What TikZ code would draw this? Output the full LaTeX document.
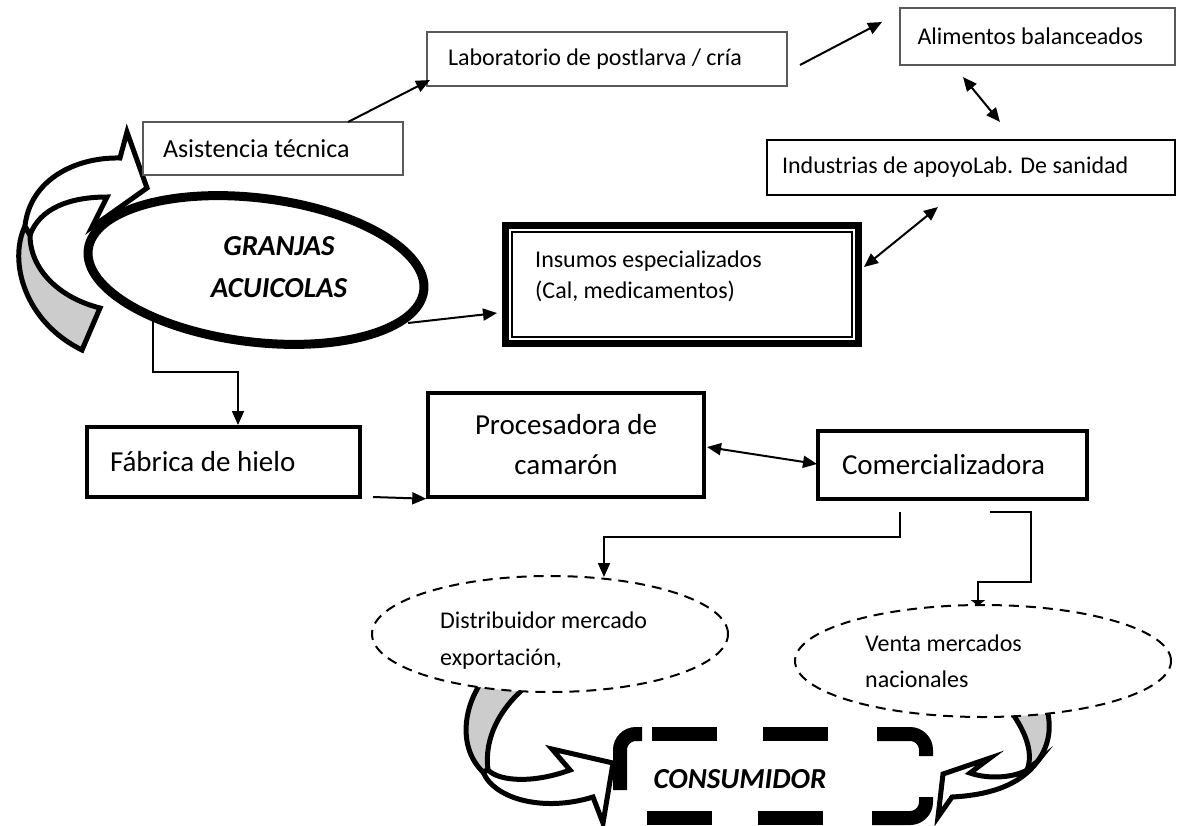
\documentclass[tikz,border=0pt]{standalone}
\usepackage{fontspec}
\setmainfont{Carlito}
\usetikzlibrary{arrows.meta,shapes.geometric}
\begin{document}
\begin{tikzpicture}[x=1pt,y=-1pt,
  sm/.style={font=\fontsize{24}{30}\selectfont},
  lg/.style={font=\fontsize{29}{40}\selectfont},
  bi/.style={font=\fontsize{29}{42}\selectfont\bfseries\itshape},
  thinbox/.style={rectangle, draw=black!65, line width=1.3pt, fill=white, inner ysep=0pt, align=flush left, sm},
  midbox/.style={rectangle, draw=black, line width=2.5pt, fill=white, inner ysep=0pt, align=flush left, sm},
  thickbox/.style={rectangle, draw=black, line width=3.5pt, fill=white, inner ysep=0pt, lg},
  dellipse/.style={ellipse, draw=black, line width=2pt, dash pattern=on 10pt off 7pt, fill=white, inner sep=0pt},
  arr/.style={-{Triangle[length=14pt,width=12pt]}, line width=2pt},
  darr/.style={{Triangle[length=14pt,width=12pt]}-{Triangle[length=14pt,width=12pt]}, line width=2pt},
  block/.style={draw=black, line width=5pt, line join=miter, miter limit=10},
  cb/.style={draw=black, line width=14pt, rounded corners=16pt},
  txt/.style={inner sep=0pt, align=left}
]
\useasboundingbox[fill=white] (0,0) rectangle (1181,825);

% ---------- curved block arrow around the farm ----------
\fill[black!20, block] (25,226) .. controls (8,262) and (25,322) .. (82,350) -- (100,308)
  .. controls (60,298) and (30,270) .. (30,235) -- cycle;
\filldraw[fill=white, block] (25,226) .. controls (30,180) and (75,157) .. (120,158) -- (127,132)
  -- (147,188) -- (92,227) -- (107,197) .. controls (70,197) and (40,208) .. (30,235) -- cycle;

% ---------- boxes ----------
\node[thinbox, minimum width=360pt, minimum height=54pt, text width=318pt, inner xsep=21pt] (lab) at (607,59) {Laboratorio de postlarva / cría};
\node[thinbox, minimum width=275pt, minimum height=57pt, text width=240pt, inner xsep=17.5pt] (alim) at (1037.5,36.5) {Alimentos balanceados};
\node[midbox, minimum width=408pt, minimum height=55pt, text width=378pt, inner xsep=15pt] (ind) at (971,167.5) {Industrias de apoyoLab. De sanidad};
\node[thinbox, minimum width=260pt, minimum height=53pt, text width=220pt, inner xsep=20pt, font=\fontsize{26}{32}\selectfont] (asis) at (273,148.5) {Asistencia técnica};

% insumos (double frame)
\node[rectangle, draw=black, line width=7pt, fill=white, minimum width=353pt, minimum height=118pt, inner sep=0pt] (ins) at (682,284.5) {};
\draw[line width=1.6pt] ([shift={(10,10)}]ins.north west) rectangle ([shift={(-10,-10)}]ins.south east);
\node[txt, anchor=west, font=\fontsize{24}{31}\selectfont] (inst) at (535,276) {Insumos especializados\\(Cal, medicamentos)};

% farm ellipse
\node[ellipse, draw=black, line width=9pt, fill=white, minimum width=338pt, minimum height=144pt, inner sep=0pt, rotate=-7] (gr) at (256,270) {};
\node[txt, align=center, bi] (grt) at (279,267) {GRANJAS\\ACUICOLAS};

% middle row
\node[thickbox, minimum width=273pt, minimum height=70pt, text width=227pt, inner xsep=23pt, align=flush left] (fab) at (223.5,462) {Fábrica de hielo};
\node[thickbox, minimum width=276pt, minimum height=104pt, align=center] (proc) at (566,445) {Procesadora de\\camarón};
\node[thickbox, minimum width=269pt, minimum height=68pt, text width=221pt, inner xsep=24pt, align=flush left] (com) at (952.5,465) {Comercializadora};

% ---------- connectors ----------
\coordinate (a1) at (348,122);
\coordinate (a2) at (430,80);
\draw[arr] (a1) -- (a2);
\coordinate (b1) at (800,65);
\coordinate (b2) at (882,22);
\draw[arr] (b1) -- (b2);
\coordinate (c1) at (963,77);
\coordinate (c2) at (1000,122);
\draw[darr] (c1) -- (c2);
\coordinate (d1) at (864,267);
\coordinate (d2) at (938,207);
\draw[darr] (d1) -- (d2);
\coordinate (e1) at (408,323);
\coordinate (e2) at (497,313);
\draw[arr] (e1) -- (e2);
\coordinate (f1) at (153,321);
\draw[-{Triangle[length=14pt,width=12pt]}, line width=1.6pt] (f1) -- (153,372) -- (238,372) -- (238,425);
\coordinate (g1) at (373,497);
\draw[arr] (g1) -- (proc.south west);
\coordinate (h1) at (707,447);
\coordinate (h2) at (817,464);
\draw[darr] (h1) -- (h2);

% ---------- market ellipses and arrows ----------
% bottom-left curved arrow
\filldraw[fill=black!20, block] (483,680) .. controls (463,707) and (458,748) .. (483,772) -- (488,770)
  .. controls (484,740) and (498,707) .. (534,680) -- cycle;
\filldraw[fill=white, block] (483,772) .. controls (495,800) and (545,812) .. (593,797) -- (603,823)
  -- (613,763) -- (552,749) -- (570,770) .. controls (535,783) and (500,782) .. (488,770) -- cycle;
% bottom-right curved arrow
\filldraw[fill=black!20, block] (1010,710) .. controls (1028,735) and (1033,755) .. (1027,770) -- (1037,762)
  .. controls (1050,745) and (1052,725) .. (1046,706) -- cycle;
\filldraw[fill=white, block] (1027,770) .. controls (1015,777) and (990,780) .. (970,773) -- (990,758)
  -- (943,774) -- (938,817) -- (952,797) .. controls (990,795) and (1020,785) .. (1037,762) -- cycle;

\node[dellipse, minimum width=356pt, minimum height=116pt] (dist) at (550,634) {};
\node[txt, anchor=west, font=\fontsize{24}{37}\selectfont] (distt) at (440,641) {Distribuidor mercado\\exportación,};
\node[dellipse, minimum width=376pt, minimum height=112pt] (venta) at (983,661) {};
\node[txt, anchor=west, font=\fontsize{24}{36}\selectfont] (ventat) at (865,661) {Venta mercados\\nacionales};

\coordinate (i1) at (900,512);
\draw[-{Triangle[length=14pt,width=12pt]}, line width=1.8pt] (i1) -- (900,537) -- (604,537) -- (604,577);
\coordinate (j1) at (990,512);
\draw[-{Triangle[length=6pt,width=14pt]}, line width=2.5pt] (j1) -- (1031,512) -- (1031,582) -- (978,582) -- (978,606);

% ---------- consumer ----------
\node[txt, bi] (cons) at (740,779) {CONSUMIDOR};
\draw[cb] (620,790) -- (620,734) -- (642,734);
\draw[cb] (652,734) -- (717,734);
\draw[cb] (763,734) -- (828,734);
\draw[cb] (877,734) -- (926,734) -- (926,756);
\draw[cb] (647,818) -- (712,818);
\draw[cb] (758,818) -- (823,818);
\draw[cb] (872,818) -- (926,818) -- (926,797);
\end{tikzpicture}
\end{document}
